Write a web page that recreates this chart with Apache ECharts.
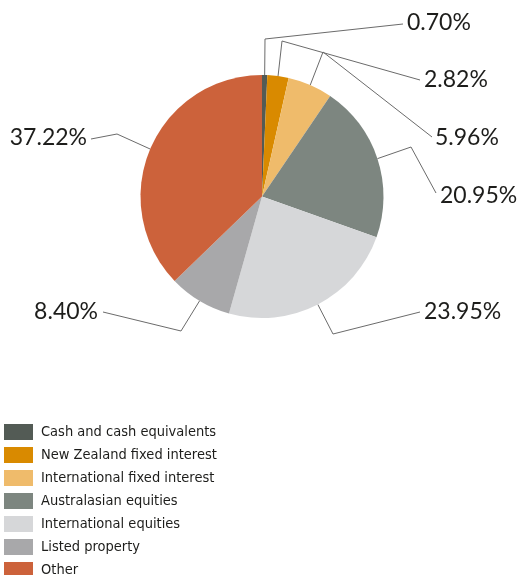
<!DOCTYPE html>
<html>
<head>
<meta charset="utf-8">
<script src="https://cdn.jsdelivr.net/npm/echarts@6/dist/echarts.min.js"></script>
<style>
  html, body { margin: 0; padding: 0; background: #fff; }
  #chart { width: 521px; height: 575px; }
</style>
</head>
<body>
<div id="chart"></div>
<script>
const categories = [
    'Cash and cash equivalents',
    'New Zealand fixed interest',
    'International fixed interest',
    'Australasian equities',
    'International equities',
    'Listed property',
    'Other'
];
const shares = [0.70, 2.82, 5.96, 20.95, 23.95, 8.40, 37.22];
const colors = ['#535b55', '#d98a00', '#efbb6b', '#7d8680', '#d6d7d9', '#a8a8aa', '#cc623b'];

// label anchor (x, y, align) and elbow point of each leader line
const labelSpots = [
    { x: 407, y: 23, align: 'left', elbow: [265, 39], end: [403, 24] },
    { x: 424, y: 80, align: 'left', elbow: [282, 41], end: [420, 80] },
    { x: 435, y: 138, align: 'left', elbow: [323, 52], end: [432, 137] },
    { x: 440, y: 196, align: 'left', elbow: [411, 147], end: [436, 193] },
    { x: 424, y: 312, align: 'left', elbow: [333, 334], end: [420, 312] },
    { x: 98, y: 312, align: 'right', elbow: [181, 331], end: [103, 312] },
    { x: 87, y: 138, align: 'right', elbow: [117, 134], end: [91, 139] }
];

const chart = echarts.init(document.getElementById('chart'));

const option = {
    backgroundColor: '#fff',
    animation: false,
    color: colors,
    legend: {
        orient: 'vertical',
        left: 4,
        top: 424,
        height: 200,
        padding: 0,
        icon: 'rect',
        itemWidth: 29,
        itemHeight: 16,
        itemGap: 7,
        selectedMode: false,
        data: categories,
        textStyle: {
            color: '#1d1d1b',
            fontSize: 14.5,
            lineHeight: 16,
            fontFamily: '"Liberation Sans Narrow", "DejaVu Sans Condensed", sans-serif',
            padding: [0, 0, 0, 3]
        }
    },
    series: [
        {
            type: 'pie',
            center: [262, 196.5],
            radius: [0, 121.5],
            startAngle: 90,
            clockwise: true,
            avoidLabelOverlap: false,
            data: categories.map((name, i) => ({ name: name, value: shares[i] })),
            itemStyle: { borderWidth: 0 },
            label: {
                show: true,
                formatter: (p) => p.value.toFixed(2) + '%',
                color: '#1d1d1b',
                fontSize: 23,
                fontFamily: 'Lato, sans-serif'
            },
            labelLine: {
                show: true,
                length: 20,
                length2: 20,
                lineStyle: { color: '#6b6b6b', width: 1 }
            },
            labelLayout: function (params) {
                const s = labelSpots[params.dataIndex];
                const start = params.labelLinePoints ? params.labelLinePoints[0] : s.elbow;
                return {
                    x: s.x,
                    y: s.y,
                    align: s.align,
                    verticalAlign: 'middle',
                    labelLinePoints: [start, s.elbow, s.end]
                };
            },
            emphasis: { disabled: true }
        }
    ]
};

chart.setOption(option);
</script>
</body>
</html>
